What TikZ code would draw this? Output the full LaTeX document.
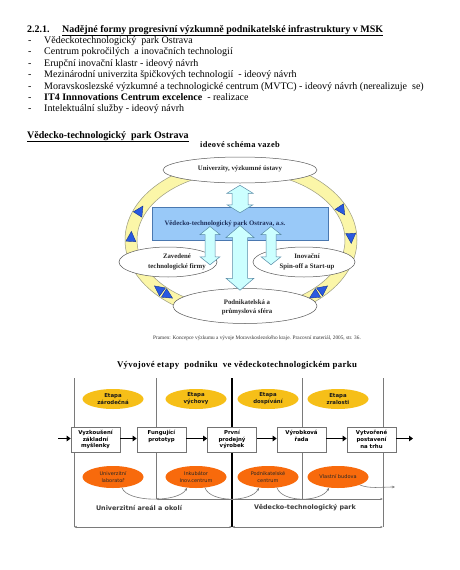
\documentclass[tikz,border=0pt]{standalone}
\usepackage{fontspec}
\setmainfont{Liberation Serif}
\newfontfamily\dvsans{DejaVu Sans}
\newfontfamily\spacedserif[LetterSpace=4]{Liberation Serif}
\usetikzlibrary{shapes.geometric,calc,arrows.meta}
\definecolor{bandfill}{HTML}{FBF6A8}
\definecolor{bandedge}{HTML}{9A9A80}
\definecolor{rectfill}{HTML}{99C9F8}
\definecolor{rectedge}{HTML}{4A78B0}
\definecolor{recttext}{HTML}{1C2E5A}
\definecolor{cyanfill}{HTML}{CCFFFF}
\definecolor{cyanedge}{HTML}{5A8CA8}
\definecolor{trifill}{HTML}{2A5AE0}
\definecolor{triedge}{HTML}{16348F}
\definecolor{goldfill}{HTML}{F6BF18}
\definecolor{orangefill}{HTML}{F86A0C}
\definecolor{linegray}{HTML}{7A7A7A}
\definecolor{labgray}{HTML}{3A3A3A}
\newcommand\blockarrow[5]{%
  \filldraw[cyanarrow] let \p1=(#1), \p2=(#2) in
   (\x1,\y1) -- (\x1+#4pt,\y1-#5pt) -- (\x1+#3pt,\y1-#5pt) -- (\x1+#3pt,\y2+#5pt)
   -- (\x1+#4pt,\y2+#5pt) -- (\x1,\y2) -- (\x1-#4pt,\y2+#5pt) -- (\x1-#3pt,\y2+#5pt)
   -- (\x1-#3pt,\y1-#5pt) -- (\x1-#4pt,\y1-#5pt) -- cycle;}
\begin{document}
\begin{tikzpicture}[x=1pt,y=-1pt,
  bodytxt/.style={anchor=base west, inner sep=0pt, font=\rmfamily\fontsize{10}{11.4}\selectfont},
  ovell/.style={ellipse, draw=black!65, line width=0.5pt, fill=white, inner sep=0pt},
  ovtxt/.style={inner sep=0pt, align=center, text=black!85, font=\rmfamily\bfseries\fontsize{6.8}{9.5}\selectfont},
  cyanarrow/.style={fill=cyanfill, draw=cyanedge, line width=0.5pt},
  bluetri/.style={fill=trifill, draw=triedge, line width=0.4pt},
  vline/.style={draw=linegray, line width=0.6pt},
  midline/.style={draw=black, line width=1.1pt},
  dimline/.style={draw=linegray, line width=0.6pt, {Latex[length=2.5pt,width=2.2pt]}-{Latex[length=2.5pt,width=2.2pt]}},
  stagebox/.style={draw=black!55, fill=white, line width=0.6pt, minimum width=49pt, minimum height=25pt, inner sep=1.5pt, align=center, font=\dvsans\bfseries\fontsize{5.4}{6.9}\selectfont},
  goldell/.style={ellipse, fill=goldfill, minimum width=61pt, minimum height=20pt, inner sep=0pt, align=center, text=black!90, font=\dvsans\bfseries\fontsize{5.4}{6.9}\selectfont},
  orangeell/.style={ellipse, fill=orangefill, minimum width=61pt, minimum height=22pt, inner sep=0pt, align=center, text=black!85, font=\dvsans\fontsize{5}{6.6}\selectfont},
  flowarrow/.style={draw=black, line width=1.6pt, -{Triangle[length=4pt,width=5.5pt]}},
  curvearrow/.style={draw=linegray, line width=0.6pt, -{Stealth[length=3pt,width=2.5pt]}},
  seclabel/.style={inner sep=0pt, text=labgray, font=\dvsans\bfseries\fontsize{6.4}{7.5}\selectfont}
]
\fill[white] (0,0) rectangle (460,570);
\useasboundingbox (0,0) rectangle (460,570);

% ---------- text block ----------
\node[bodytxt, font=\rmfamily\bfseries\fontsize{10}{11.4}\selectfont] (hnum) at (27,32) {2.2.1.};
\node[bodytxt, font=\rmfamily\bfseries\fontsize{10}{11.4}\selectfont] (htitle) at (62,32) {\underline{Nadějné formy progresivní výzkumně podnikatelské infrastruktury v MSK}};
\foreach \i/\txt in {1/{Vědeckotechnologický \ park Ostrava},
                     2/{Centrum pokročilých \ a inovačních technologií},
                     3/{Erupční inovační klastr - ideový návrh},
                     4/{Mezinárodní univerzita špičkových technologií \ - ideový návrh},
                     5/{Moravskoslezské výzkumné a technologické centrum (MVTC) - ideový návrh (nerealizuje \ se)},
                     6/{\textbf{IT4 Innnovations Centrum excelence} \ - realizace},
                     7/{Intelektuální služby - ideový návrh}}{
  \node[bodytxt] (d\i) at (28,{32+11.4*\i}) {-};
  \node[bodytxt] (l\i) at (44,{32+11.4*\i}) {\txt};
}
\node[bodytxt, font=\rmfamily\bfseries\fontsize{10}{11.4}\selectfont] (sec) at (27,138) {\underline{Vědecko-technologický \ park Ostrava}};
\node[inner sep=0pt, font=\spacedserif\bfseries\fontsize{8.4}{10}\selectfont] (schema) at (240,145) {ideové schéma vazeb};

% ---------- ring ----------
\fill[bandfill, even odd rule] (241,240) ellipse [x radius=116, y radius=80] (241,240) ellipse [x radius=104, y radius=68];
\draw[bandedge, line width=0.5pt] (241,240) ellipse [x radius=116, y radius=80];
\draw[bandedge, line width=0.5pt] (241,240) ellipse [x radius=104, y radius=68];
\foreach \t/\d in {203/1,182/1,336/1,358/1,138/1,132/-1,42/-1,48/1}{
  \pgfmathsetmacro\px{241+110*cos(\t)}
  \pgfmathsetmacro\py{240+74*sin(\t)}
  \pgfmathsetmacro\ang{atan2(-74*cos(\t)*(\d), -110*sin(\t)*(\d))}
  \filldraw[bluetri, shift={(\px,\py)}, rotate=\ang] (6,0) -- (-4,5) -- (-4,-5) -- cycle;
}

% ---------- ellipses and rectangle ----------
\node[ovell, minimum width=154pt, minimum height=26pt] (uni) at (240,170) {};
\node[ovtxt] (unit) at (240,169) {Univerzity, výzkumné ústavy};
\node[ovell, minimum width=98pt, minimum height=30pt] (zav) at (168,262) {};
\node[ovtxt] (zavt) at (177,262) {Zavedené\\technologické firmy};
\node[ovell, minimum width=102pt, minimum height=30pt] (ino) at (304,262) {};
\node[ovtxt] (inot) at (307,262) {Inovační\\Spin-off a Start-up};
\node[ovell, minimum width=144pt, minimum height=35pt] (pod) at (245,306) {};
\node[ovtxt] (podt) at (247,307.5) {Podnikatelská a\\průmyslová sféra};
\node[draw=rectedge, fill=rectfill, line width=0.5pt, minimum width=176pt, minimum height=33pt, inner sep=0pt] (vtp) at (240,223.5) {};
\node[ovtxt, text=recttext] (vtpt) at (225,224) {Vědecko-technologický park Ostrava, a.s.};

% ---------- block arrows ----------
\blockarrow{$(uni.south)+(0,2)$}{$(vtp.north)+(0,6)$}{8}{13}{8}
\blockarrow{$(vtp.center)+(-30,3)$}{$(zav.north)+(42,18)$}{5}{10}{8}
\blockarrow{$(vtp.center)+(0,2)$}{$(pod.north)+(-5,2)$}{7.5}{14}{12}
\blockarrow{$(vtp.center)+(31,3)$}{$(ino.north)+(-33,18)$}{5}{10}{8}

\node[inner sep=0pt, font=\rmfamily\fontsize{5.3}{6}\selectfont, text=black!80] (src) at (257,338) {Pramen: Koncepce výzkumu a vývoje Moravskoslezského kraje. Pracovní materiál, 2005, str. 36.};

% ---------- bottom diagram ----------
\node[inner sep=0pt, font=\spacedserif\bfseries\fontsize{8.8}{10}\selectfont] (vtitle) at (237,365) {Vývojové etapy \ podniku \ ve vědeckotechnologickém parku};

\coordinate (v1t) at (74,378);  \coordinate (v1b) at (74,527);
\coordinate (v2t) at (156,378); \coordinate (v2b) at (156,499);
\coordinate (v3t) at (232,378); \coordinate (v3b) at (232,527);
\coordinate (v4t) at (302,378); \coordinate (v4b) at (302,499);
\coordinate (v5t) at (383,378); \coordinate (v5b) at (383,527);
\draw[vline] (v1t) -- (v1b);
\draw[vline] (v2t) -- (v2b);
\draw[midline] (v3t) -- (v3b);
\draw[vline] (v4t) -- (v4b);
\draw[vline] (v5t) -- (v5b);
\draw[dimline] (v2b) -- (v5b |- v2b);
\draw[dimline] (v1b) -- (v3b);
\draw[dimline] (v3b) -- (v5b);

\node[goldell] (g1) at (113,399) {Etapa\\zárodečná};
\node[goldell] (g2) at (196,399) {Etapa\\výchovy};
\node[goldell] (g3) at (268,399) {Etapa\\dospívání};
\node[goldell] (g4) at (338,399) {Etapa\\zralosti};

\node[stagebox] (b1) at (95.5,439.5) {Vyzkoušení\\základní\\myšlenky};
\node[stagebox] (b2) at (161.5,439.5) {Fungující\\prototyp\\\mbox{}};
\node[stagebox] (b3) at (232,439.5) {První\\prodejný\\výrobek};
\node[stagebox] (b4) at (301.5,439.5) {Výrobková\\řada\\\mbox{}};
\node[stagebox] (b5) at (371.5,439.5) {Vytvořené\\postavení\\na trhu};
\coordinate (s0) at (58,438.5);
\coordinate (e0) at (413,438.5);
\draw[flowarrow] (s0) -- (s0 -| b1.west);
\draw[flowarrow] (b1.east |- s0) -- (b2.west |- s0);
\draw[flowarrow] (b2.east |- s0) -- (b3.west |- s0);
\draw[flowarrow] (b3.east |- s0) -- (b4.west |- s0);
\draw[flowarrow] (b4.east |- s0) -- (b5.west |- s0);
\draw[flowarrow] (b5.east |- s0) -- (e0);

\node[orangeell] (o1) at (113,477) {Univerzitní\\laboratoř};
\node[orangeell] (o2) at (196,477) {Inkubátor\\Inov.centrum};
\node[orangeell] (o3) at (268,477) {Podnikatelské\\centrum};
\node[orangeell] (o4) at (338,477) {Vlastní budova};
\coordinate (oend) at (395,487);
\draw[curvearrow] (o1.-50) .. controls +(5,15) and +(-8,15) .. (o2.-130);
\draw[curvearrow] (o2.-50) .. controls +(5,15) and +(-8,15) .. (o3.-130);
\draw[curvearrow] (o3.-50) .. controls +(5,15) and +(-8,15) .. (o4.-130);
\draw[curvearrow] (o4.-20) .. controls +(10,4) and +(-15,0) .. (oend);

\node[seclabel] (ua) at (139,508) {Univerzitní areál a okolí};
\node[seclabel] (vp) at (305,508) {Vědecko-technologický park};
\end{tikzpicture}
\end{document}
